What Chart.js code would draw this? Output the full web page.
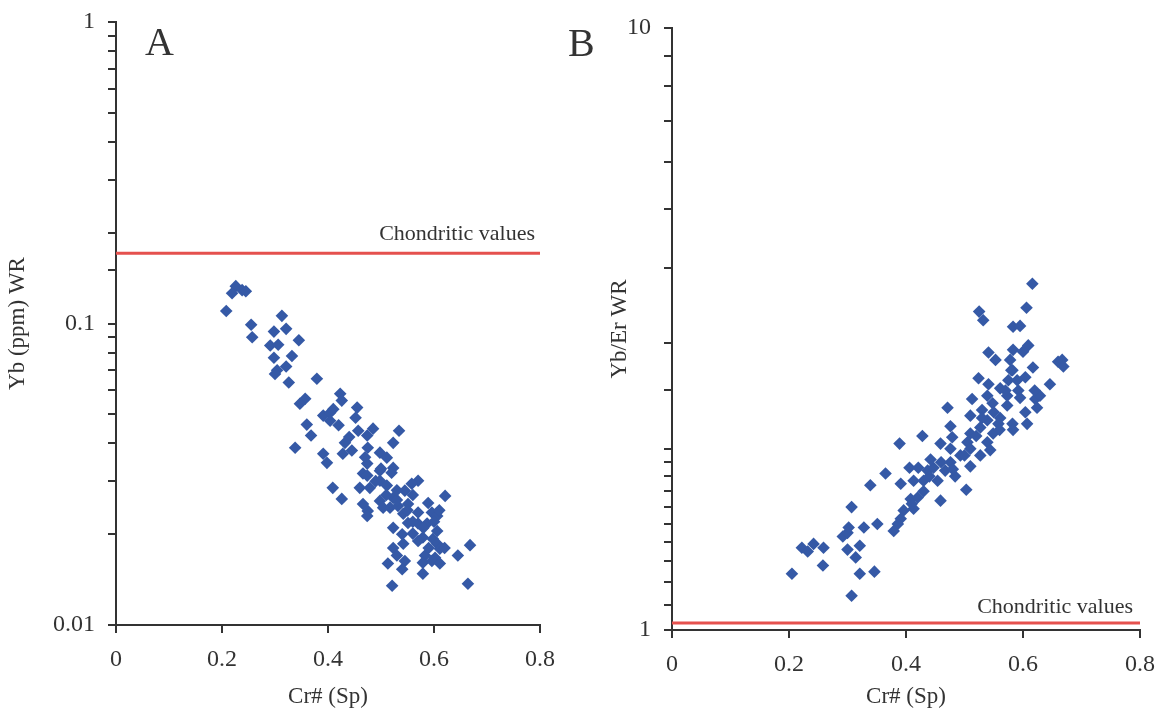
<!DOCTYPE html>
<html><head><meta charset="utf-8">
<script src="https://cdn.jsdelivr.net/npm/chart.js@4.4.0/dist/chart.umd.min.js"></script>
<style>
html,body{margin:0;padding:0;background:#fff;}
#wrap{position:relative;width:1157px;height:715px;overflow:hidden;}
canvas{position:absolute;top:0;}
#cA{left:0;} #cB{left:556px;}
</style></head><body>
<div id="wrap"><canvas id="cA" width="580" height="715"></canvas><canvas id="cB" width="601" height="715"></canvas></div>
<script>
// Panel A: Cr# (Sp) vs Yb (ppm) WR
const crA = [0.226,0.238,0.245,0.219,0.208,0.313,0.255,0.298,0.321,0.345,0.257,0.291,0.306,0.332,0.298,0.321,0.304,0.300,0.379,0.326,
0.357,0.347,0.423,0.426,0.391,0.404,0.404,0.455,0.452,0.360,0.368,0.338,0.457,0.485,0.474,0.432,0.428,0.445,0.475,0.498,
0.523,0.511,0.391,0.398,0.474,0.466,0.498,0.523,0.409,0.426,0.460,0.479,0.498,0.511,0.466,0.498,0.523,0.517,0.474,0.570,
0.558,0.545,0.621,0.504,0.532,0.551,0.589,0.542,0.570,0.596,0.606,0.475,0.474,0.523,0.551,0.570,0.587,0.606,0.560,0.579,
0.598,0.542,0.606,0.611,0.668,0.523,0.530,0.583,0.602,0.645,0.513,0.545,0.579,0.596,0.611,0.540,0.579,0.521,0.664,0.534,
0.490,0.510,0.530,0.550,0.560,0.580,0.540,0.570,0.590,0.500,0.470,0.440,0.420,0.410,0.530,0.600,0.610,0.620,0.560,0.520];
const ybA = [0.133,0.129,0.128,0.126,0.110,0.106,0.099,0.094,0.096,0.088,0.090,0.0845,0.085,0.078,0.077,0.072,0.070,0.068,0.0656,0.0637,
0.0563,0.0542,0.0585,0.0555,0.0495,0.0506,0.0476,0.0526,0.0487,0.0462,0.0425,0.0387,0.0441,0.0448,0.0425,0.0402,0.0370,0.0379,0.0387,0.0373,
0.0402,0.0359,0.0370,0.0345,0.0343,0.0318,0.0325,0.0332,0.0285,0.0262,0.0285,0.0285,0.0301,0.0290,0.0252,0.0258,0.0264,0.0245,0.0313,0.0301,
0.0294,0.0279,0.0268,0.0245,0.0248,0.0252,0.0254,0.0234,0.0236,0.0236,0.0230,0.0239,0.0230,0.0210,0.0218,0.0217,0.0217,0.0205,0.0201,0.0195,
0.0193,0.0186,0.0186,0.0179,0.0184,0.0180,0.0170,0.0170,0.0167,0.0170,0.0160,0.0163,0.0161,0.0163,0.0160,0.0153,0.0148,0.0135,0.0137,0.0441,
0.0300,0.0270,0.0260,0.0240,0.0220,0.0210,0.0200,0.0190,0.0180,0.0330,0.0360,0.0420,0.0460,0.0520,0.0280,0.0220,0.0240,0.0180,0.0270,0.0320];
const chondA = 0.171;

// Panel B: Cr# (Sp) vs Yb/Er WR
const crB = [0.616,0.606,0.525,0.532,0.583,0.595,0.609,0.541,0.553,0.660,0.583,0.578,0.617,0.604,0.582,0.524,0.541,0.575,0.646,0.561,
0.592,0.573,0.595,0.513,0.621,0.539,0.548,0.624,0.471,0.573,0.530,0.604,0.510,0.561,0.539,0.582,0.607,0.476,0.527,0.558,
0.549,0.510,0.428,0.479,0.583,0.389,0.459,0.505,0.539,0.476,0.510,0.365,0.339,0.391,0.406,0.421,0.437,0.413,0.430,0.447,
0.454,0.459,0.408,0.420,0.396,0.413,0.391,0.386,0.379,0.307,0.351,0.328,0.302,0.292,0.300,0.242,0.222,0.232,0.259,0.300,
0.321,0.314,0.258,0.205,0.321,0.346,0.307,0.493,0.476,0.467,0.510,0.527,0.503,0.544,0.484,0.667,0.669,0.629,0.442,
0.550,0.570,0.590,0.560,0.530,0.600,0.580,0.520,0.500,0.480,0.460,0.440,0.430,0.410,0.620];
const ybErB = [3.76,3.43,3.38,3.27,3.19,3.20,2.97,2.89,2.81,2.79,2.92,2.81,2.73,2.63,2.70,2.62,2.56,2.60,2.56,2.52,
2.50,2.45,2.43,2.42,2.42,2.45,2.38,2.34,2.34,2.36,2.32,2.30,2.27,2.25,2.23,2.20,2.20,2.18,2.17,2.20,
2.12,2.12,2.10,2.09,2.15,2.04,2.04,2.05,2.05,2.00,2.00,1.82,1.74,1.75,1.86,1.86,1.84,1.77,1.77,1.86,
1.77,1.64,1.65,1.66,1.58,1.59,1.53,1.50,1.46,1.60,1.50,1.48,1.48,1.43,1.45,1.39,1.37,1.35,1.37,1.36,
1.38,1.32,1.28,1.24,1.24,1.25,1.14,1.95,1.90,1.84,1.87,1.95,1.71,1.99,1.80,2.81,2.74,2.45,1.92,
2.30,2.50,2.60,2.15,2.25,2.90,2.70,2.10,1.95,1.85,1.90,1.80,1.70,1.62,2.50];
const chondB = 1.027;

const xTicks = [0, 0.2, 0.4, 0.6, 0.8];

const SERIF = "'Liberation Serif', 'Times New Roman', serif";
const INK = '#333333';
const BLUE = '#3559a6';
const RED = '#e5514e';

const annot = {
  id: 'annot',
  afterDatasetsDraw(chart, args, o) {
    const {ctx, scales} = chart;
    ctx.save();
    ctx.fillStyle = INK;
    ctx.font = '22px ' + SERIF;
    ctx.textAlign = 'right';
    ctx.textBaseline = 'alphabetic';
    const y = scales.y.getPixelForValue(o.lineValue);
    ctx.fillText('Chondritic values', scales.x.getPixelForValue(0.8) - o.inset, y - o.gap);
    ctx.font = '40px ' + SERIF;
    ctx.textAlign = 'left';
    ctx.fillText(o.letter, o.lx, o.ly);
    ctx.restore();
  }
};

function isDecade(v) {
  const l = Math.log10(v);
  return Math.abs(l - Math.round(l)) < 1e-6;
}

function makeChart(id, xs, ys, chond, yMin, yMax, yTitle, cfg) {
  const pts = xs.map((x, i) => ({x: x, y: ys[i]}));
  return new Chart(document.getElementById(id), {
    data: {
      datasets: [
        {type: 'line', data: [{x: 0, y: chond}, {x: 0.8, y: chond}], borderColor: RED, borderWidth: 3,
         pointRadius: 0, fill: false, order: 2},
        {type: 'scatter', data: pts, pointStyle: 'rectRot', pointRadius: 6.3, backgroundColor: BLUE,
         borderColor: BLUE, borderWidth: 0, order: 1}
      ]
    },
    options: {
      responsive: false, animation: false,
      plugins: {legend: {display: false}, tooltip: {enabled: false},
        annot: {lineValue: chond, inset: cfg.inset, gap: cfg.gap, letter: cfg.letter, lx: cfg.lx, ly: cfg.ly}},
      layout: {padding: cfg.pad},
      scales: {
        x: {
          type: 'linear', min: 0, max: 0.8,
          afterBuildTicks: (s) => { s.ticks = xTicks.map(v => ({value: v})); },
          afterFit: (s) => { s.height = cfg.xh; s.paddingLeft = 0; s.paddingRight = 0; },
          grid: {drawOnChartArea: false, drawTicks: true, tickLength: 8, color: INK, lineWidth: 2},
          border: {display: true, color: INK, width: 2},
          ticks: {color: INK, font: {family: SERIF, size: 24}, padding: 12, maxRotation: 0, autoSkip: false,
            callback: (v) => String(v)},
          title: {display: true, text: 'Cr# (Sp)', color: INK, font: {family: SERIF, size: 23}, padding: {top: 4, bottom: 4}}
        },
        y: {
          type: 'logarithmic', min: yMin, max: yMax,
          afterFit: (s) => { s.width = cfg.yw; s.paddingTop = 0; s.paddingBottom = 0; },
          grid: {drawOnChartArea: false, drawTicks: true, tickLength: 8, color: INK, lineWidth: 2},
          border: {display: true, color: INK, width: 2},
          ticks: {color: INK, font: {family: SERIF, size: 24}, padding: 13, autoSkip: false,
            callback: (v) => isDecade(v) ? String(Number(v.toPrecision(3))) : ''},
          title: {display: true, text: yTitle, color: INK, font: {family: SERIF, size: 23}, padding: {top: 4, bottom: 4}}
        }
      }
    },
    plugins: [annot]
  });
}

makeChart('cA', crA, ybA, chondA, 0.01, 1, 'Yb (ppm) WR',
  {pad: {left: 0, right: 40, top: 22, bottom: 0}, xh: 90, yw: 116, inset: 5, gap: 13, letter: 'A', lx: 145, ly: 55});
makeChart('cB', crB, ybErB, chondB, 1, 10, 'Yb/Er WR',
  {pad: {left: 46, right: 17, top: 28, bottom: 0}, xh: 85, yw: 70, inset: 7, gap: 10, letter: 'B', lx: 12, ly: 56});
</script>
</body></html>
